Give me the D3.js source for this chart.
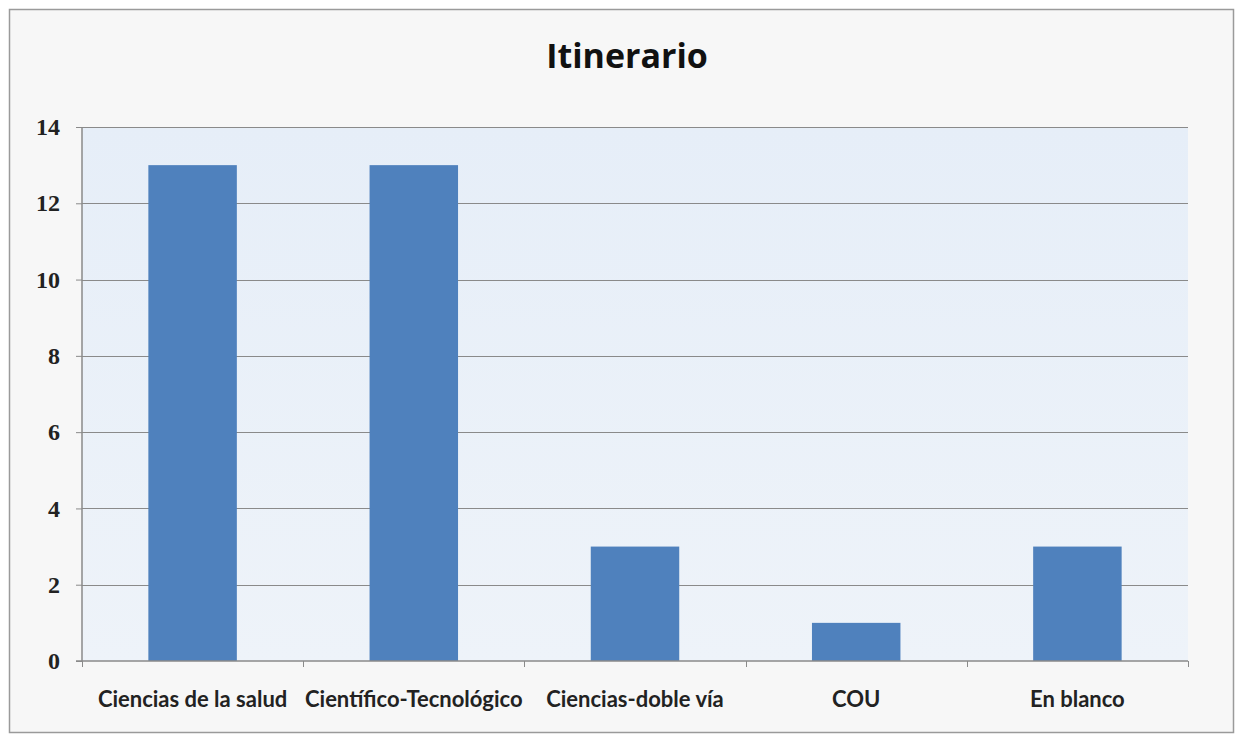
<!DOCTYPE html>
<html>
<head>
<meta charset="utf-8">
<script src="https://cdn.jsdelivr.net/npm/d3@7"></script>
<style>
    html, body { margin: 0; padding: 0; background: #ffffff; }
    .axis-y text { font-family: "Liberation Serif", serif; font-weight: bold; font-size: 24px; fill: #222; }
    .axis-x text { font-family: Lato, sans-serif; font-weight: bold; font-size: 22px; fill: #222; }
</style>
</head>
<body>
<svg id="chart" width="1236" height="735"></svg>
<script>
"use strict";

const categories = ['Ciencias de la salud', 'Científico-Tecnológico', 'Ciencias-doble vía', 'COU', 'En blanco'];
const values = [13, 13, 3, 1, 3];
const yTicks = [0, 2, 4, 6, 8, 10, 12, 14];
const chartTitle = 'Itinerario';

const svg = d3.select('#chart');

// outer chart frame
svg.append('rect')
    .attr('x', 9.5).attr('y', 9.5)
    .attr('width', 1236 - 12).attr('height', 735 - 12)
    .attr('fill', '#f7f7f7')
    .attr('stroke', '#9a9a9a')
    .attr('stroke-width', 1.5);

const LEFT = 82, RIGHT = 1188, TOP = 127, BOTTOM = 661;

const x = d3.scaleBand().domain(categories).range([LEFT, RIGHT]).paddingInner(0.6).paddingOuter(0.3);
const y = d3.scaleLinear().domain([0, 14]).range([BOTTOM, TOP]);

// plot background
const defs = svg.append('defs');
const grad = defs.append('linearGradient').attr('id', 'plotbg').attr('x1', 0).attr('y1', 0).attr('x2', 0).attr('y2', 1);
grad.append('stop').attr('offset', '0%').attr('stop-color', '#e6eef8');
grad.append('stop').attr('offset', '100%').attr('stop-color', '#eef3f9');
svg.append('rect')
    .attr('x', LEFT).attr('y', TOP)
    .attr('width', RIGHT - LEFT).attr('height', BOTTOM - TOP)
    .attr('fill', 'url(#plotbg)');

// gridlines
svg.append('g')
    .selectAll('line')
    .data(yTicks.filter(t => t > 0))
    .join('line')
    .attr('x1', LEFT).attr('x2', RIGHT)
    .attr('y1', d => Math.round(y(d)) + 0.5).attr('y2', d => Math.round(y(d)) + 0.5)
    .attr('stroke', '#8a8a8a')
    .attr('stroke-width', 1);

// bars
svg.append('g')
    .selectAll('rect')
    .data(values)
    .join('rect')
    .attr('x', (d, i) => x(categories[i]))
    .attr('y', d => y(d))
    .attr('width', x.bandwidth())
    .attr('height', d => y(0) - y(d))
    .attr('fill', '#4f81bd');

// y axis
const yAxis = d3.axisLeft(y).tickValues(yTicks).tickSize(6).tickPadding(16);
const yAxisGroup = svg.append('g')
    .classed('axis-y', true)
    .attr('transform', `translate(${LEFT}, 0)`)
    .call(yAxis);
yAxisGroup.selectAll('path, line').attr('stroke', '#8a8a8a');
yAxisGroup.select('.domain').attr('d', `M0,${TOP}V${BOTTOM}`).attr('stroke-width', 1.5);

// x axis, ticks between categories
const boundaries = d3.range(categories.length + 1).map(i => LEFT + i * (RIGHT - LEFT) / categories.length);
const xAxisGroup = svg.append('g').classed('axis-x', true);
xAxisGroup.append('line')
    .attr('x1', LEFT - 6).attr('x2', RIGHT)
    .attr('y1', BOTTOM).attr('y2', BOTTOM)
    .attr('stroke', '#8a8a8a').attr('stroke-width', 1.5);
xAxisGroup.selectAll('line.tick')
    .data(boundaries)
    .join('line')
    .classed('tick', true)
    .attr('x1', d => Math.round(d) + 0.5).attr('x2', d => Math.round(d) + 0.5)
    .attr('y1', BOTTOM).attr('y2', BOTTOM + 6)
    .attr('stroke', '#8a8a8a');
xAxisGroup.selectAll('text')
    .data(categories)
    .join('text')
    .attr('x', d => x(d) + x.bandwidth() / 2)
    .attr('y', 707)
    .attr('text-anchor', 'middle')
    .text(d => d);

// title
svg.append('text')
    .attr('x', 627).attr('y', 68)
    .attr('text-anchor', 'middle')
    .attr('font-family', '"Open Sans", sans-serif')
    .attr('font-weight', 'bold')
    .attr('font-size', 34)
    .attr('fill', '#111')
    .text(chartTitle);
</script>
</body>
</html>
